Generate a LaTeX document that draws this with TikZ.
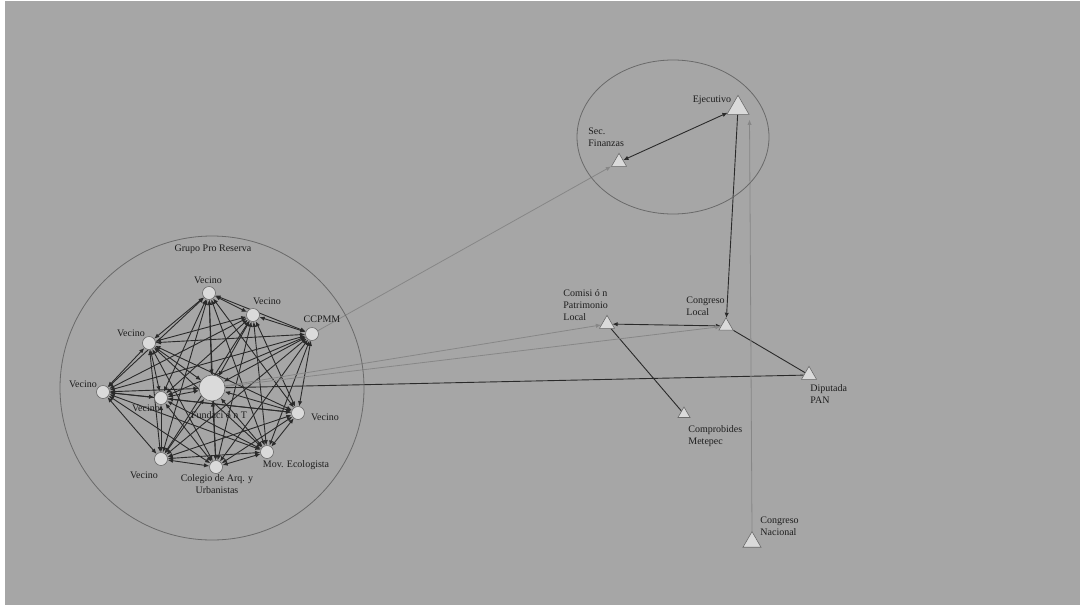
\documentclass[tikz,border=0pt]{standalone}
\usepackage{fontspec}
\setmainfont{Liberation Serif}
\usetikzlibrary{shapes.geometric,arrows.meta,calc}
\definecolor{fondo}{HTML}{A6A6A6}
\definecolor{relleno}{HTML}{DADADA}
\definecolor{borde}{HTML}{6A6A6A}
\definecolor{oscuro}{HTML}{2A2A2A}
\definecolor{claro}{HTML}{878787}
\definecolor{texto}{HTML}{1E1E1E}
\pgfdeclarelayer{capafondo}
\pgfdeclarelayer{capalazos}
\pgfsetlayers{capafondo,capalazos,main}

\begin{document}
\begin{tikzpicture}[x=0.5pt,y=-0.5pt,font=\fontsize{5}{6}\selectfont,>={Latex[length=2.6pt,width=2.2pt]},
    actor/.style={circle,draw=borde,fill=relleno,line width=0.3pt,inner sep=0pt,minimum size=#1},
    actor/.default=6.5pt,
    inst/.style={regular polygon,regular polygon sides=3,draw=borde,fill=relleno,line width=0.3pt,inner sep=0pt,minimum size=#1},
    inst/.default=8.7pt,
    txt/.style={inner sep=0pt,text=texto,align=left},
    lazo/.style={draw=oscuro,line width=0.45pt},
    lazoclaro/.style={draw=claro,line width=0.4pt,->}]
                \begin{pgfonlayer}{capafondo}
                \fill[white] (0,0) rectangle (1080,605);
                \fill[fondo] (5,1) rectangle (1080,605);
                \end{pgfonlayer}
                \useasboundingbox (0,0) rectangle (1080,605);
                % grupos
                \draw[borde,line width=0.4pt] (212,388) circle [radius=152];
                \draw[borde,line width=0.4pt] (673,137) ellipse [x radius=96,y radius=77];
                \node[txt] (lgrupo) at (213,249) {Grupo Pro Reserva};
                % actores del grupo
                \node[actor] (v1) at (209,293) {};
                \node[actor] (v2) at (253,315) {};
                \node[actor] (cc) at (312,334) {};
                \node[actor] (v3) at (149,343) {};
                \node[actor] (v4) at (103,392) {};
                \node[actor] (v5) at (161,398) {};
                \node[actor=13pt] (fu) at (212,388) {};
                \node[actor] (v6) at (298,413) {};
                \node[actor] (me) at (267,452) {};
                \node[actor] (co) at (216,467) {};
                \node[actor] (v7) at (161,459) {};
                \node[txt] (lv1) at (208,280) {Vecino};
                \node[txt] (lv2) at (267,301) {Vecino};
                \node[txt] (lcc) at (322,319) {CCPMM};
                \node[txt] (lv3) at (131,333) {Vecino};
                \node[txt] (lv4) at (83,384) {Vecino};
                \node[txt] (lv5) at (146,408) {Vecino};
                \node[txt] (lfu) at (219,415) {Fundaci ó n T};
                \node[txt] (lv6) at (325,417) {Vecino};
                \node[txt] (lme) at (296,465) {Mov. Ecologista};
                \node[txt,align=center] (lco) at (217,484) {Colegio de Arq. y\\Urbanistas};
                \node[txt] (lv7) at (144,475) {Vecino};
                % instituciones
                \node[inst=12.7pt] (ej) at (738,108) {};
                \node[inst] (sf) at (619,162) {};
                \node[inst] (cp) at (607,324) {};
                \node[inst=8.2pt] (cl) at (726,326) {};
                \node[inst] (dp) at (809,375) {};
                \node[inst=7pt] (cm) at (684,414) {};
                \node[inst=10.4pt] (cn) at (752,542) {};
                \node[txt] (lej) at (712,100) {Ejecutivo};
                \node[txt,anchor=west] (lsf) at (588,137) {Sec.\\Finanzas};
                \node[txt,anchor=west] (lcp) at (563,305) {Comisi ó n\\Patrimonio\\Local};
                \node[txt,anchor=west] (lcl) at (686,306) {Congreso\\Local};
                \node[txt,anchor=west] (ldp) at (810,394) {Diputada\\PAN};
                \node[txt,anchor=west] (lcm) at (688,436) {Comprobides\\Metepec};
                \node[txt,anchor=west] (lcn) at (760,526) {Congreso\\Nacional};
                \begin{pgfonlayer}{capalazos}
                % lazos dentro del grupo
                \foreach \a [count=\i] in {v1,v2,cc,v3,v4,v5,fu,v6,me,co,v7}
                {
                \foreach \b [count=\j] in {v1,v2,cc,v3,v4,v5,fu,v6,me,co,v7}
                {\ifnum\j>\i \draw[lazo,<->] (\a) -- (\b); \fi}
                }
                % lazos hacia fuera
                \coordinate (ejR) at ($(ej.corner 3)+(0,5)$);
                \draw[lazo,<->] (sf) -- (ej);
                \draw[lazo,->] (ej) -- (cl);
                \draw[lazo,<->] (cp) -- (cl);
                \draw[lazo] (cl) -- (dp);
                \draw[lazo] (cp) -- (cm);
                \draw[lazo] (fu) -- (dp);
                \draw[lazoclaro] (cn.corner 1) -- (ejR);
                \draw[lazoclaro] (cc) -- (sf);
                \draw[lazoclaro] (fu) -- (cp);
                \draw[lazoclaro] (fu) -- (cl);
                \end{pgfonlayer}
            \end{tikzpicture}
\end{document}
